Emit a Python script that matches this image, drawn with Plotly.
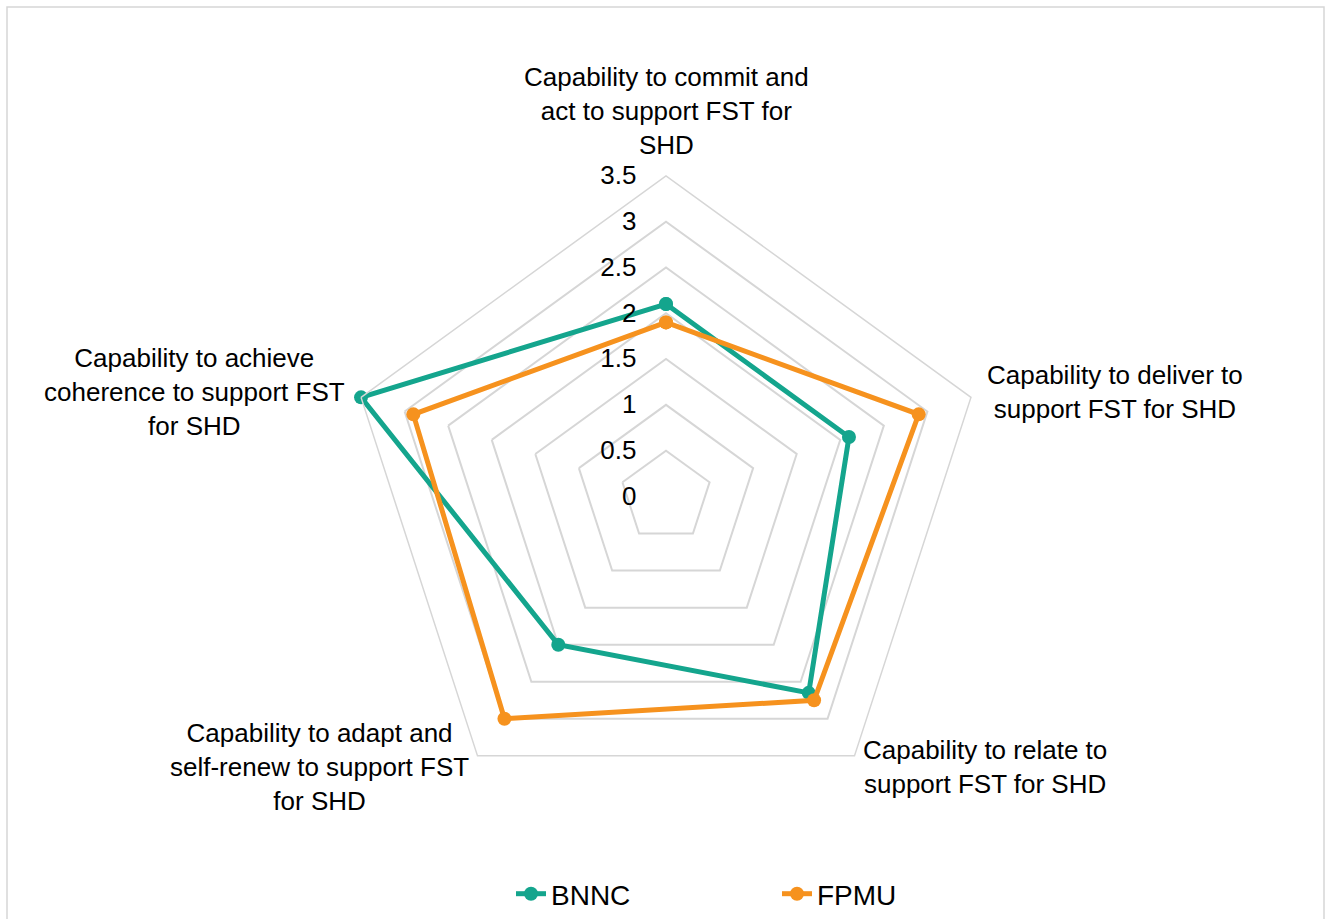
import math
import plotly.graph_objects as go

categories = [
    "Capability to commit and<br>act to support FST for<br>SHD",
    "Capability to deliver to<br>support FST for SHD",
    "Capability to relate to<br>support FST for SHD",
    "Capability to adapt and<br>self-renew to support FST<br>for SHD",
    "Capability to achieve<br>coherence to support FST<br>for SHD",
]
bnnc = [2.1, 2.1, 2.65, 2.0, 3.5]
fpmu = [1.9, 2.9, 2.75, 3.0, 2.9]
series = [("BNNC", bnnc, "#14a58d"), ("FPMU", fpmu, "#f6921e")]

W, H = 1325, 919
FONT = "Liberation Sans, Arial, sans-serif"
GRID = "#d6d6d6"

fig = go.Figure()
for name, vals, col in series:
    fig.add_trace(go.Scatterpolar(
        r=vals + vals[:1],
        theta=categories + categories[:1],
        mode="lines+markers",
        name=name,
        line=dict(color=col, width=5),
        marker=dict(color=col, size=14),
    ))

# polar geometry (pixels)
cx, cy, R = 666, 497, 321

# category labels placed just outside each spoke of the radar
annotations = []
n = len(categories)
for i, lab in enumerate(categories):
    a = math.radians(90 - 360 * i / n)
    c, s = math.cos(a), math.sin(a)
    px, py = cx + R * c, cy - R * s
    if abs(c) < 0.1:
        xa, ya = "center", "bottom"
        py -= 14
    else:
        xa = "left" if c > 0 else "right"
        ya = "middle"
        px += (14 if s > 0 else 6) * (1 if c > 0 else -1)
        py += -5 if s > 0 else 11
    annotations.append(dict(
        text=lab, x=px / W, y=1 - py / H, xref="paper", yref="paper",
        xanchor=xa, yanchor=ya, align="center", showarrow=False,
        font=dict(size=26, color="black", family=FONT),
    ))

fig.update_layout(
    width=W, height=H,
    margin=dict(l=0, r=0, t=0, b=0),
    paper_bgcolor="white",
    font=dict(family=FONT, color="black"),
    polar=dict(
        domain=dict(x=[(cx - R) / W, (cx + R) / W], y=[(H - cy - R) / H, (H - cy + R) / H]),
        bgcolor="white",
        gridshape="linear",
        radialaxis=dict(
            range=[0, 3.5], dtick=0.5, angle=90, side="counterclockwise",
            showline=False, gridcolor=GRID, gridwidth=1.5,
            ticks="outside", ticklen=20, tickcolor="rgba(0,0,0,0)",
            tickangle=90,
            tickfont=dict(size=26, color="black", family=FONT),
        ),
        angularaxis=dict(
            direction="clockwise", rotation=90, showgrid=False,
            linecolor=GRID, linewidth=1.5, ticks="", showticklabels=False,
        ),
    ),
    showlegend=True,
    legend=dict(
        orientation="h", x=(553 - 42) / W, xanchor="left", y=(H - 895) / H, yanchor="middle",
        font=dict(size=28, family=FONT, color="black"),
        entrywidth=221, entrywidthmode="pixels",
    ),
    annotations=annotations,
    shapes=[dict(type="rect", xref="paper", yref="paper",
                 x0=7 / W, x1=1324 / W, y0=-0.02, y1=1 - 7 / H,
                 line=dict(color=GRID, width=1.5))],
)

fig.write_html("out.html")
